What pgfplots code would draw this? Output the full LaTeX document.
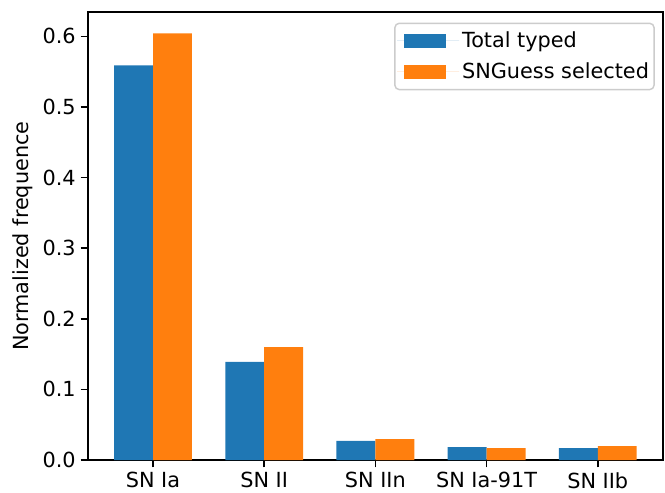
\documentclass[border=0pt]{standalone}
\usepackage{pgfplots}
\pgfplotsset{compat=1.18}
\usepackage{fontspec}
\setmainfont{DejaVu Sans}
\definecolor{mplblue}{HTML}{1F77B4}
\definecolor{mplorange}{HTML}{FF7F0E}
\begin{document}
\begin{tikzpicture}
\useasboundingbox (-60.9pt,-22.15pt) rectangle (399.5pt,318.5pt);
\begin{axis}[
  at={(0,0)}, anchor=south west,
  scale only axis,
  width=398pt, height=310pt,
  xmin=-0.585, xmax=4.585,
  ymin=0, ymax=0.634,
  xtick={0,1,2,3,4},
  xticklabels={SN Ia, SN II, SN IIn, SN Ia-91T, SN IIb},
  ytick={0,0.1,0.2,0.3,0.4,0.5,0.6},
  yticklabel style={/pgf/number format/fixed,/pgf/number format/fixed zerofill,/pgf/number format/precision=1},
  /pgf/number format/assume math mode=true,
  tick align=outside,
  major tick length=5pt,
  tick style={black, line width=1.1pt},
  axis line style={line width=1.1pt},
  xtick pos=bottom, ytick pos=left,
  ticklabel style={font=\fontsize{14.4pt}{17pt}\selectfont},
  ylabel={Normalized frequence},
  ylabel style={font=\fontsize{14.4pt}{17pt}\selectfont},
  bar width=0.35,
  legend style={at={(0.986,0.977)}, anchor=north east, font=\fontsize{14.4pt}{17pt}\selectfont, draw=black!20, line width=1pt, rounded corners=3pt, row sep=5pt, inner xsep=1.5pt, inner ysep=4pt},
  legend cell align=left,
  legend image code/.code={\fill[#1,sharp corners] (5pt,-5pt) rectangle (34pt,5pt); \path (0pt,0pt) -- (43pt,0pt);},
]
\addplot[ybar, fill=mplblue, draw=none, bar shift=-0.175] coordinates {(0,0.559) (1,0.139) (2,0.027) (3,0.0184) (4,0.017)};
\addlegendentry{Total typed}
\addplot[ybar, fill=mplorange, draw=none, bar shift=0.175] coordinates {(0,0.604) (1,0.160) (2,0.0297) (3,0.017) (4,0.0198)};
\addlegendentry{SNGuess selected}
\end{axis}
\end{tikzpicture}
\end{document}
